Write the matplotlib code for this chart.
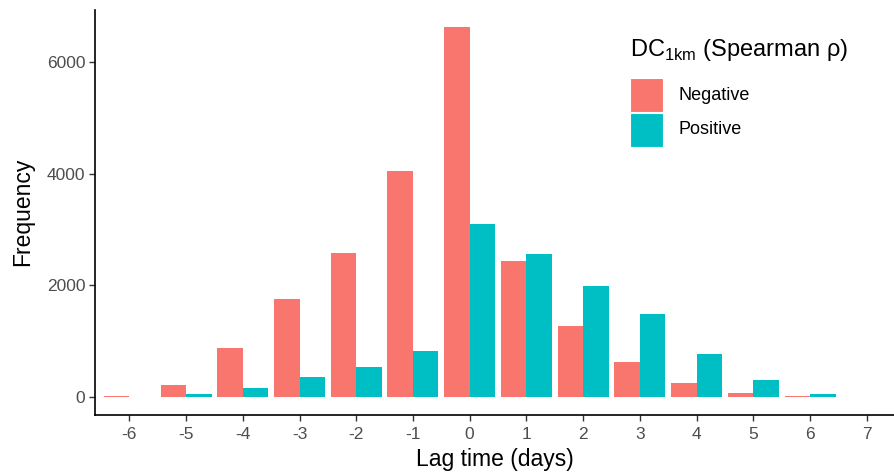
import matplotlib
matplotlib.use("Agg")
import matplotlib.pyplot as plt
import matplotlib.patches as patches
import numpy as np

# Data
lags = [-6, -5, -4, -3, -2, -1, 0, 1, 2, 3, 4, 5, 6]
negative = [18, 212, 865, 1745, 2570, 4054, 6628, 2433, 1260, 625, 248, 63, 9]
positive = [0, 45, 153, 350, 524, 817, 3097, 2553, 1984, 1481, 763, 296, 50]
xticks = [-6, -5, -4, -3, -2, -1, 0, 1, 2, 3, 4, 5, 6, 7]
yticks = [0, 2000, 4000, 6000]
groups = ["Negative", "Positive"]
colors = ["#F8766D", "#00BFC4"]

plt.rcParams['font.family'] = ['Liberation Sans', 'DejaVu Sans']
plt.rcParams['mathtext.fontset'] = 'custom'
plt.rcParams['mathtext.rm'] = 'Liberation Sans'


def main():
    fig = plt.figure(figsize=(8.94, 4.72), dpi=100)
    ax = fig.add_axes([95 / 894, 1 - 414.5 / 472, 799 / 894, 404.5 / 472])

    x = np.array(lags, dtype=float)
    w = 0.45
    ax.bar(x - w / 2, negative, width=w, color=colors[0], linewidth=0)
    ax.bar(x + w / 2, positive, width=w, color=colors[1], linewidth=0)

    ax.set_xlim(-6.605, 7.48)
    ax.set_ylim(-323, 6939)
    ax.set_xticks(xticks)
    ax.set_yticks(yticks)
    ax.set_xticklabels([str(t) for t in xticks])
    ax.set_yticklabels([str(t) for t in yticks])
    ax.tick_params(axis='both', colors='#333333', labelcolor='#4D4D4D',
                   labelsize=12.5, length=4, width=1.0, pad=3)
    ax.tick_params(axis='x', pad=5)

    for side in ['top', 'right']:
        ax.spines[side].set_visible(False)
    for side in ['left', 'bottom']:
        ax.spines[side].set_linewidth(1.2)
        ax.spines[side].set_color('black')

    ax.set_xlabel("Lag time (days)", fontsize=16.5, labelpad=4)
    ax.set_ylabel("Frequency", fontsize=16.5, labelpad=9)

    # Legend drawn by hand inside the panel
    fig.text(630 / 894, 1 - 50 / 472, r"DC$_{\mathrm{1km}}$ (Spearman ρ)",
             fontsize=17, va='center', ha='left')
    for i, (g, c) in enumerate(zip(groups, colors)):
        top = 78 + i * 35
        rect = patches.Rectangle((630 / 894, 1 - (top + 34) / 472),
                                 33 / 894, 34 / 472,
                                 transform=fig.transFigure,
                                 facecolor=c, edgecolor='white', lw=0.8)
        fig.patches.append(rect)
        fig.text(678 / 894, 1 - (top + 17) / 472, g, fontsize=13,
                 va='center', ha='left')

    fig.savefig("out.png", dpi=100)


if __name__ == "__main__":
    main()
